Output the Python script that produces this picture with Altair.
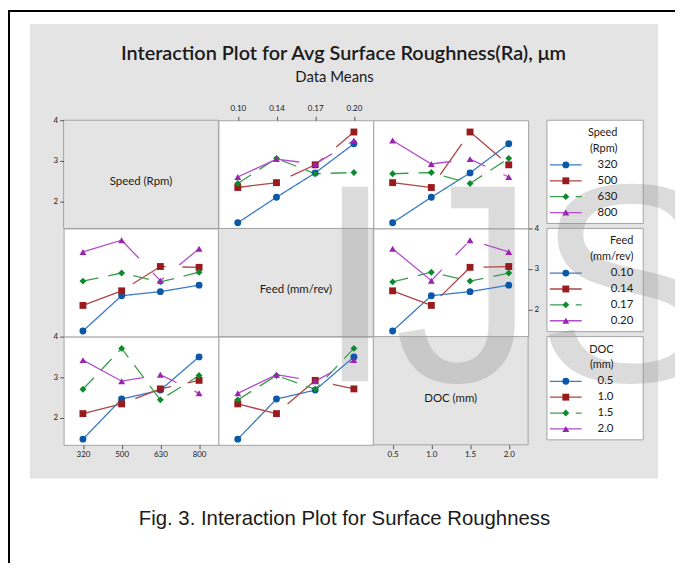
import altair as alt
import pandas as pd

# ---------------- data (L16 design, Ra in micrometres) ----------------
SPEED_LEVELS = ["320", "500", "630", "800"]
FEED_LEVELS = ["0.10", "0.14", "0.17", "0.20"]
DOC_LEVELS = ["0.5", "1.0", "1.5", "2.0"]

RUN_SPEED = ["320", "320", "320", "320", "500", "500", "500", "500",
             "630", "630", "630", "630", "800", "800", "800", "800"]
RUN_FEED = ["0.10", "0.14", "0.17", "0.20", "0.10", "0.14", "0.17", "0.20",
            "0.10", "0.14", "0.17", "0.20", "0.10", "0.14", "0.17", "0.20"]
RUN_DOC = ["0.5", "1.0", "1.5", "2.0", "1.0", "0.5", "2.0", "1.5",
           "1.5", "2.0", "0.5", "1.0", "2.0", "1.5", "1.0", "0.5"]
RUN_RA = [1.47, 2.10, 2.70, 3.42, 2.34, 2.46, 2.90, 3.71,
          2.44, 3.06, 2.68, 2.71, 2.60, 3.04, 2.92, 3.50]

FACTOR_NAMES = ["Speed", "Feed", "DOC"]
FACTOR_LEVELS = [SPEED_LEVELS, FEED_LEVELS, DOC_LEVELS]
FACTOR_LABELS = ["Speed (Rpm)", "Feed (mm/rev)", "DOC (mm)"]
LEGEND_TITLES = [["Speed", "(Rpm)"], ["Feed", "(mm/rev)"], ["DOC", "(mm)"]]
Y_TICKS = [2, 3, 4]

TITLE = "Interaction Plot for Avg Surface Roughness(Ra), μm"
SUBTITLE = "Data Means"
CAPTION = "Fig. 3. Interaction Plot for Surface Roughness"
WATERMARK = "IJS"

# ---------------- styles ----------------
W, H = 156, 109
LEG_W = 148
Y_MIN, Y_MAX = 1.33, 4.0
S_DOMAIN = ["0", "1", "2", "3"]
MARKER_COLORS = ["#0B58A8", "#981B1E", "#0D8A2E", "#9B22B4"]
LINE_COLORS = ["#3B7AC6", "#B04446", "#3A9F4D", "#B24ECB"]
SHAPES = ["circle", "square", "diamond", "triangle-up"]
SIZES = [48, 48, 72, 88]
DASHES = [[1, 0], [38, 17], [16, 10], [66, 20, 16, 20]]
BORDER = "#A3A3A3"
BG_GRAY = "#E4E4E4"
TEXT = "#1A1A1A"
UI_FONT = "Lato"
WM_POS = (254, 263)  # watermark anchor relative to the panel grid's top-left corner

stroke_enc = alt.Stroke("s:N", scale=alt.Scale(domain=S_DOMAIN, range=LINE_COLORS), legend=None)
dash_enc = alt.StrokeDash("s:N", scale=alt.Scale(domain=S_DOMAIN, range=DASHES), legend=None)
fill_enc = alt.Fill("s:N", scale=alt.Scale(domain=S_DOMAIN, range=MARKER_COLORS), legend=None)
shape_enc = alt.Shape("s:N", scale=alt.Scale(domain=S_DOMAIN, range=SHAPES), legend=None)
size_enc = alt.Size("s:O", scale=alt.Scale(domain=S_DOMAIN, range=SIZES), legend=None)

runs = pd.DataFrame({"Speed": RUN_SPEED, "Feed": RUN_FEED, "DOC": RUN_DOC, "Ra": RUN_RA})
ONE = pd.DataFrame({"k": [0]})


def means(r, c):
    fr, fc = FACTOR_NAMES[r], FACTOR_NAMES[c]
    g = runs.groupby([fr, fc], as_index=False)["Ra"].mean()
    g["s"] = g[fr].map(lambda v: str(FACTOR_LEVELS[r].index(v)))
    g["x"] = g[fc]
    return g[["s", "x", "Ra"]].sort_values(["s", "x"])


def y_scale():
    return alt.Scale(domain=[Y_MIN, Y_MAX], nice=False, zero=False)


def x_scale(c):
    return alt.Scale(type="point", domain=FACTOR_LEVELS[c], padding=0.5)


def axis(orient, values=None):
    kw = dict(orient=orient, tickSize=4, labelPadding=2, domain=False, grid=False,
              title=None, labelAngle=0, labelFont=UI_FONT, labelFontSize=8,
              labelColor=TEXT, tickColor="#555555", zindex=1)
    if values is not None:
        kw["values"] = values
        kw["format"] = "d"
    if orient == "top":
        kw["labelPadding"] = 4
    return alt.Axis(**kw)


def watermark_layer(ox, oy):
    """Piece of the watermark visible inside the cell whose origin is (ox, oy)."""
    return alt.Chart(pd.DataFrame({"t": [WATERMARK]})).mark_text(
        font="Liberation Sans", fontSize=285, color="#878787", opacity=0.3,
        align="left", baseline="alphabetic", clip=True
    ).encode(text="t:N", x=alt.value(WM_POS[0] - ox), y=alt.value(WM_POS[1] - oy))


def interaction_panel(r, c, x_orient=None, y_orient=None):
    df = means(r, c)
    x = alt.X("x:O", scale=x_scale(c), axis=axis(x_orient) if x_orient else None)
    y = alt.Y("Ra:Q", scale=y_scale(), axis=axis(y_orient, Y_TICKS) if y_orient else None)
    base = alt.Chart(df)
    lines = base.mark_line(strokeWidth=1.3).encode(x=x, y=y, stroke=stroke_enc, strokeDash=dash_enc)
    pts = base.mark_point(filled=True, opacity=1, strokeWidth=0).encode(
        x=x, y=y, fill=fill_enc, shape=shape_enc, size=size_enc)
    layers = []
    if c > 0:
        layers.append(watermark_layer(W * c, H * r))
    layers += [lines, pts]
    return alt.layer(*layers).properties(
        width=W, height=H,
        view=alt.ViewBackground(fill="white", stroke=BORDER, strokeWidth=1))


def text_layer(txt, x, y, size, font=UI_FONT, weight="normal", align="center", baseline="middle"):
    return alt.Chart(pd.DataFrame({"t": [txt]})).mark_text(
        font=font, fontSize=size, fontWeight=weight, color=TEXT, align=align, baseline=baseline
    ).encode(text="t:N", x=alt.value(x), y=alt.value(y))


def rect_layer(x, x2, y, y2, fill, stroke=None):
    kw = dict(fill=fill)
    if stroke:
        kw.update(stroke=stroke, strokeWidth=1)
    return alt.Chart(ONE).mark_rect(**kw).encode(
        x=alt.value(x), x2=alt.value(x2), y=alt.value(y), y2=alt.value(y2))


def diag_panel(i, decorations=None, x_orient=None, y_orient=None):
    layers = list(decorations or [])
    layers.append(rect_layer(0, W, 0, H, BG_GRAY, BORDER))
    if i > 0:
        layers.append(watermark_layer(W * i, H * i))
    layers.append(text_layer(FACTOR_LABELS[i], W / 2, H / 2 + 8, 11.5))
    if y_orient:
        layers.append(alt.Chart(pd.DataFrame({"Ra": [Y_MIN, Y_MAX]})).mark_point(opacity=0).encode(
            y=alt.Y("Ra:Q", scale=y_scale(), axis=axis(y_orient, Y_TICKS))))
    if x_orient:
        layers.append(alt.Chart(pd.DataFrame({"x": FACTOR_LEVELS[i]})).mark_point(opacity=0).encode(
            x=alt.X("x:O", scale=x_scale(i), axis=axis(x_orient))))
    return alt.layer(*layers).properties(width=W, height=H)


ROWS = ["t1", "t2"] + S_DOMAIN


def legend_panel(i, right_x):
    ent = pd.DataFrame({"row": S_DOMAIN, "s": S_DOMAIN, "label": FACTOR_LEVELS[i]})
    ttl = pd.DataFrame({"row": ["t1", "t2"], "label": LEGEND_TITLES[i]})
    y = alt.Y("row:N", scale=alt.Scale(type="point", domain=ROWS, range=[13, 93], padding=0), axis=None)
    box = rect_layer(19, 116, 0, 104, "white", BORDER)
    wm = watermark_layer(3 * W, H * i)
    rule = alt.Chart(ent).mark_rule(strokeWidth=1.3).encode(
        x=alt.value(22), x2=alt.value(54), y=y, stroke=stroke_enc, strokeDash=dash_enc)
    pts = alt.Chart(ent).mark_point(filled=True, opacity=1, strokeWidth=0).encode(
        x=alt.value(38), y=y, fill=fill_enc, shape=shape_enc, size=size_enc)
    labels = alt.Chart(ent).mark_text(font=UI_FONT, fontSize=11.5, color=TEXT, align="right").encode(
        x=alt.value(right_x), y=y, text="label:N")
    titles = alt.Chart(ttl).mark_text(font=UI_FONT, fontSize=11, color=TEXT, align="right").encode(
        x=alt.value(right_x), y=y, text="label:N")
    return alt.layer(box, wm, rule, pts, labels, titles).properties(width=LEG_W, height=H)


# decorations drawn in the first cell (its origin is the panel grid's top-left corner)
decor = [
    rect_layer(-34, 599, -97, 361, BG_GRAY),
    rect_layer(-56, -54, -111, 446, "black"),
    rect_layer(-56, 616, -111, -109, "black"),
    text_layer(TITLE, 282, -61, 20, weight=600, baseline="alphabetic"),
    text_layer(SUBTITLE, 273, -39, 15, baseline="alphabetic"),
    text_layer(CAPTION, 283, 408, 20.5, font="Liberation Sans", baseline="alphabetic"),
]

cells = [
    diag_panel(0, decorations=decor, y_orient="left"),
    interaction_panel(0, 1, x_orient="top"),
    interaction_panel(0, 2),
    legend_panel(0, 90),
    interaction_panel(1, 0),
    diag_panel(1),
    interaction_panel(1, 2, y_orient="right"),
    legend_panel(1, 106),
    interaction_panel(2, 0, x_orient="bottom", y_orient="left"),
    interaction_panel(2, 1),
    diag_panel(2, x_orient="bottom"),
    legend_panel(2, 86),
]

chart = alt.concat(*cells, columns=4, spacing=0).properties(
    bounds="flush", align="each", padding=0, background="white"
).configure_view(strokeWidth=0)

chart.save("out.html", embed_options={"renderer": "svg", "actions": False})
